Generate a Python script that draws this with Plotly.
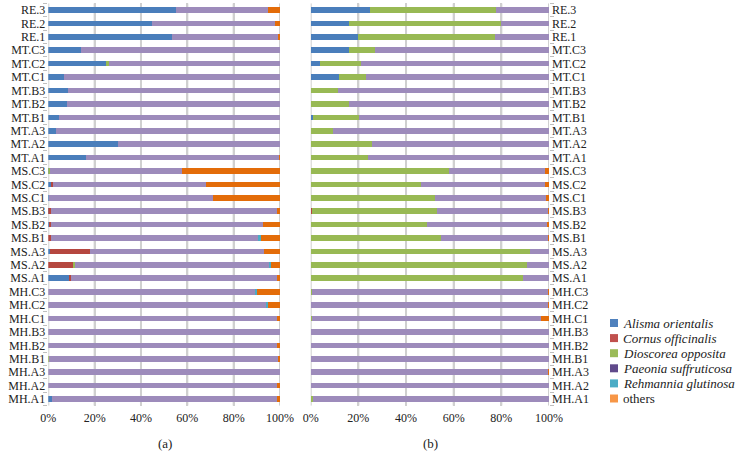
import plotly.graph_objects as go

categories = ["MH.A1","MH.A2","MH.A3","MH.B1","MH.B2","MH.B3","MH.C1","MH.C2","MH.C3",
              "MS.A1","MS.A2","MS.A3","MS.B1","MS.B2","MS.B3","MS.C1","MS.C2","MS.C3",
              "MT.A1","MT.A2","MT.A3","MT.B1","MT.B2","MT.B3","MT.C1","MT.C2","MT.C3",
              "RE.1","RE.2","RE.3"]

series_names = ["Alisma orientalis", "Cornus officinalis", "Dioscorea opposita",
                "Paeonia suffruticosa", "Rehmannia glutinosa", "others"]
series_italic = [True, True, True, True, True, False]

x_tick_values = [0, 20, 40, 60, 80, 100]
x_tick_labels = ["0%", "20%", "40%", "60%", "80%", "100%"]

# Panel (a)
a_alisma = [1.4,0,0,0,0,0,0,0,0, 8.9,0,0.6,0,0.5,0.3,0.4,1.6,0.3, 16.3,30.2,3.3,4.6,8.2,8.5,6.9,24.9,14.0, 53.5,44.7,55.0]
a_cornus = [0,0,0,0,0,0,0,0,0, 0.9,11.1,17.5,1.0,0.6,0.8,0,0.3,0, 0,0,0,0,0,0,0,0,0, 0,0,0]
a_dioscorea = [0,0,0,0.3,0,0,0,0,0, 0,0.6,0,0,0,0,0,0,0.5, 0,0,0,0,0,0,0,1.1,0, 0,0,0]
a_paeonia = [97.5,98.8,100,99.2,98.8,100,98.8,93.8,89.4, 88.8,84.1,75.0,90.0,91.7,97.7,70.8,66.3,56.9,
             83.5,69.8,96.7,95.4,91.8,91.5,93.1,74.0,86.0, 45.5,53.3,40.0]
a_rehmannia = [0,0,0,0,0,0,0,0.9,0.7, 0,0.3,0,0.8,0,0,0,0,0, 0,0,0,0,0,0,0,0,0, 0,0,0]
a_others = [1.1,1.2,0,0.5,1.2,0,1.2,5.3,9.9, 1.4,3.9,6.9,8.2,7.2,1.2,28.8,31.8,42.3, 0.2,0,0,0,0,0,0,0,0, 1.0,2.0,5.0]

# Panel (b)
b_alisma = [0,0,0,0,0,0,0,0,0, 0,0,0,0,0,0,0,0,0, 0,0,0,1.0,0,0,11.9,3.8,16.2, 19.7,16.1,24.9]
b_cornus = [0,0,0,0,0,0,0,0,0, 0,0.3,0,0,0,0.4,0,0,0, 0,0,0,0,0,0,0,0,0, 0,0,0]
b_dioscorea = [1.1,0,0,0,0,0,0.4,0,0.4, 89.1,90.5,91.9,54.7,49.0,52.5,52.3,46.2,58.2,
               24.1,25.7,9.5,19.4,15.9,11.5,11.2,17.5,10.8, 57.8,63.9,53.0]
b_paeonia = [98.9,100,99.7,100,100,100,96.4,99.6,99.2, 10.9,9.2,8.1,45.0,50.4,46.8,46.6,52.1,40.3,
             75.9,74.3,90.5,79.6,84.1,88.5,76.9,78.7,73.0, 22.5,20.0,22.1]
b_rehmannia = [0]*30
b_others = [0,0,0.3,0,0,0,3.2,0.4,0.4, 0,0,0,0.3,0.6,0.3,1.1,1.7,1.5, 0,0,0,0,0,0,0,0,0, 0,0,0]

bar_colors = ["#4A7EBB", "#B5473F", "#98B954", "#9D8BBB", "#4BACC6", "#E36C09"]
legend_colors = ["#4F81BD", "#C0504D", "#9BBB59", "#604A8B", "#4BACC6", "#F79646"]

panel_a = [a_alisma, a_cornus, a_dioscorea, a_paeonia, a_rehmannia, a_others]
panel_b = [b_alisma, b_cornus, b_dioscorea, b_paeonia, b_rehmannia, b_others]

font_fam = "Liberation Serif, Times New Roman, serif"
W, H = 737, 453
ML, MR, MT, MB = 2, 2, 2, 2
PW, PH = W - ML - MR, H - MT - MB

def px(x):
    return (x - ML) / PW

def py(y):
    return 1 - (y - MT) / PH

top, bot = 3.3, 405.7
ydom = [py(bot), py(top)]
grid_col = "#D0D0D0"

fig = go.Figure()

# gridlines: a line trace in the base subplots (drawn beneath the overlaid bar subplots)
grid_x, grid_y = [], []
for v in x_tick_values:
    grid_x += [v, v, None]
    grid_y += [0, 1, None]
for xa, ya in (("x", "y"), ("x2", "y2")):
    fig.add_trace(go.Scatter(x=grid_x, y=grid_y, mode="lines", line=dict(color=grid_col, width=2),
                             hoverinfo="skip", showlegend=False, xaxis=xa, yaxis=ya))

# stacked bars in overlaid subplots
for name, vals, col in zip(series_names, panel_a, bar_colors):
    fig.add_trace(go.Bar(y=categories, x=vals, orientation="h", name=name,
                         marker=dict(color=col, line=dict(width=0)),
                         width=0.42, showlegend=False, xaxis="x3", yaxis="y3"))
for name, vals, col in zip(series_names, panel_b, bar_colors):
    fig.add_trace(go.Bar(y=categories, x=vals, orientation="h", name=name,
                         marker=dict(color=col, line=dict(width=0)),
                         width=0.42, showlegend=False, xaxis="x4", yaxis="y4"))

def base_x(dom, anchor):
    return dict(domain=dom, anchor=anchor, range=[0, 100], type="linear",
                tickmode="array", tickvals=x_tick_values, ticktext=x_tick_labels,
                showgrid=True, gridcolor=grid_col, gridwidth=2, zeroline=False,
                showline=False, ticks="", automargin=False, ticklabelstandoff=3,
                tickfont=dict(family=font_fam, size=12, color="#222"))

def base_y(anchor):
    return dict(domain=ydom, anchor=anchor, range=[0, 1], type="linear", visible=False,
                showgrid=False, zeroline=False, automargin=False)

def over_x(base, anchor):
    return dict(overlaying=base, anchor=anchor, range=[0, 100], type="linear", visible=False,
                showgrid=False, zeroline=False, automargin=False)

def over_y(base, anchor, side):
    return dict(overlaying=base, anchor=anchor, side=side, type="category",
                categoryorder="array", categoryarray=categories,
                tickmode="array", tickvals=categories, ticktext=categories,
                range=[-0.5, 29.5], showgrid=False, zeroline=False,
                tickson="boundaries", ticks="outside", ticklen=4, tickcolor="#BFBFBF",
                showline=False, automargin=False, ticklabelstandoff=2,
                tickfont=dict(family=font_fam, size=12, color="#222"))

shapes = []
annotations = []
leg_sq = 8
leg_y_first = 323
leg_step = 15.1
for i, (name, col, it) in enumerate(zip(series_names, legend_colors, series_italic)):
    yc = leg_y_first + i * leg_step
    shapes.append(dict(type="rect", xref="paper", yref="paper",
                       x0=px(610), x1=px(610 + leg_sq),
                       y0=py(yc + leg_sq / 2), y1=py(yc - leg_sq / 2),
                       fillcolor=col, line=dict(width=0)))
    annotations.append(dict(text=(f"<i>{name}</i>" if it else name), x=px(621), y=py(yc),
                            xref="paper", yref="paper", xanchor="left", yanchor="middle",
                            showarrow=False, font=dict(family=font_fam, size=13, color="#222")))

annotations += [
    dict(text="(a)", x=px(165), y=py(443), xref="paper", yref="paper", showarrow=False,
         xanchor="center", yanchor="middle", font=dict(family=font_fam, size=13, color="#222")),
    dict(text="(b)", x=px(430), y=py(443), xref="paper", yref="paper", showarrow=False,
         xanchor="center", yanchor="middle", font=dict(family=font_fam, size=13, color="#222")),
]

fig.update_layout(
    template="none",
    width=W, height=H,
    margin=dict(l=ML, r=MR, t=MT, b=MB, autoexpand=False),
    paper_bgcolor="white", plot_bgcolor="rgba(0,0,0,0)",
    barmode="stack", showlegend=False,
    xaxis=base_x([px(48.3), px(280)], "y"),
    yaxis=base_y("x"),
    xaxis2=base_x([px(310.7), px(549)], "y2"),
    yaxis2=base_y("x2"),
    xaxis3=over_x("x", "y3"),
    yaxis3=over_y("y", "x3", "left"),
    xaxis4=over_x("x2", "y4"),
    yaxis4=over_y("y2", "x4", "right"),
    shapes=shapes,
    annotations=annotations,
)

fig.write_html("out.html", config={"displayModeBar": False},
               post_script="document.body.style.margin='0';")
